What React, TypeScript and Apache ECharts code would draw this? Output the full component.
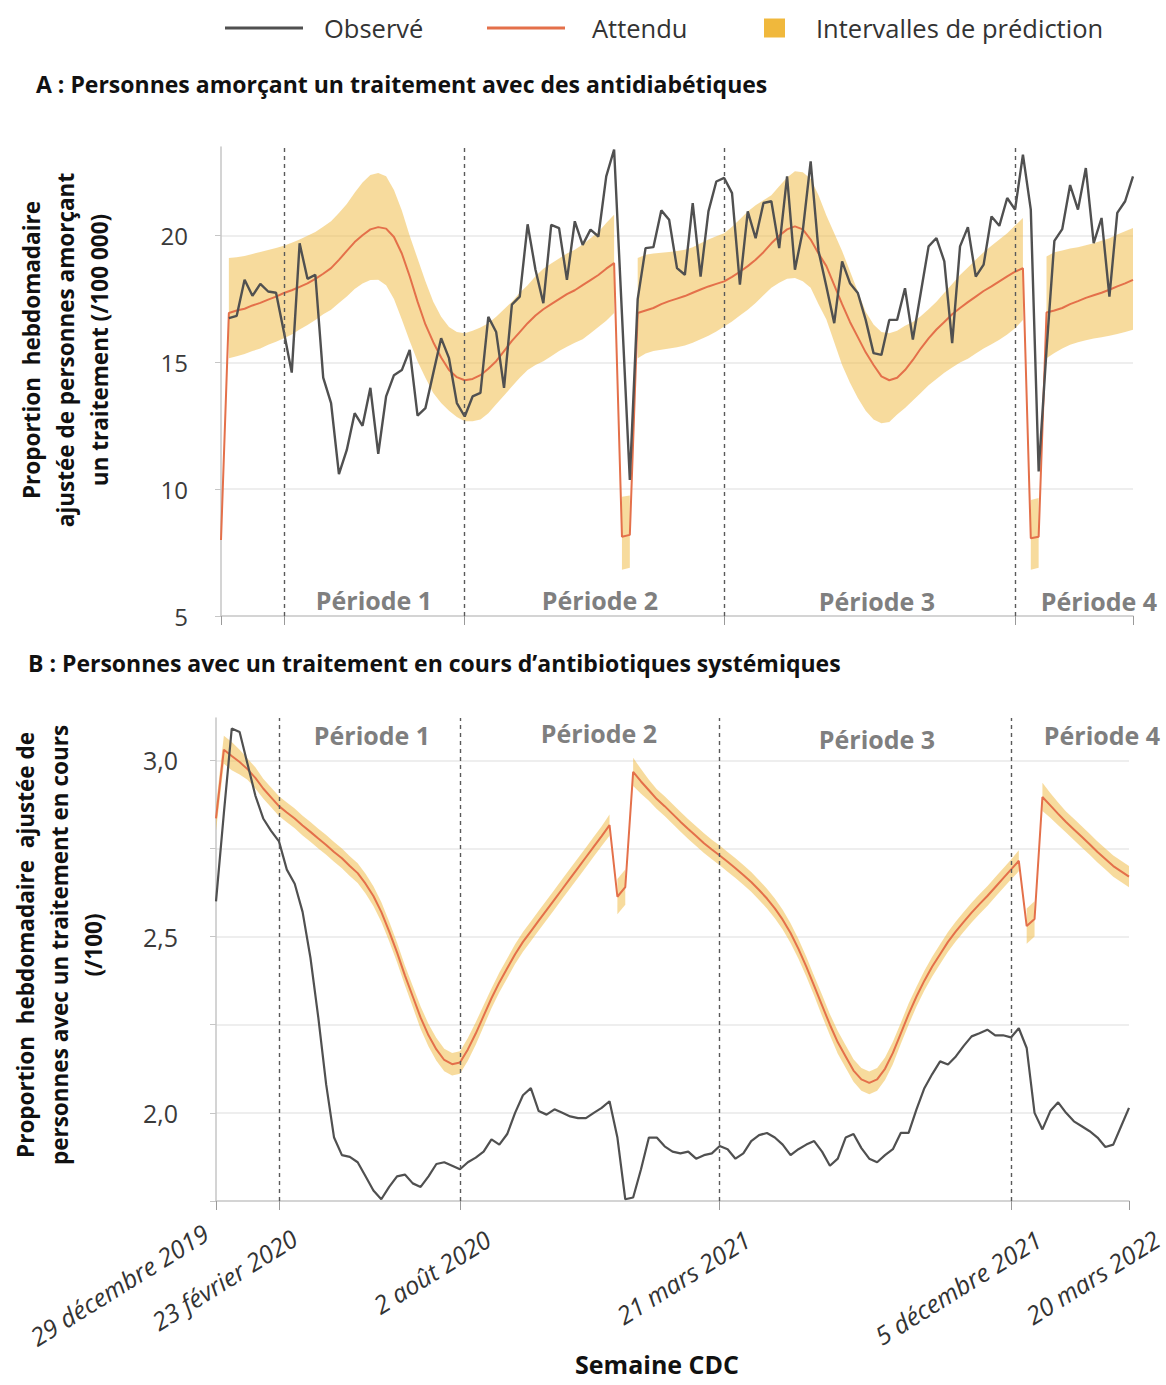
import React, { useEffect, useRef } from 'react';
import * as echarts from 'echarts';

// ---------- categories (CDC weeks, 29 Dec 2019 = week 0) ----------
const WEEKS: string[] = Array.from({ length: 117 }, (_, i) => String(i));
const TICK_WEEKS = [0, 8, 31, 64, 101, 116];
const TICK_LABELS = [
  '29 décembre 2019',
  '23 février 2020',
  '2 août 2020',
  '21 mars 2021',
  '5 décembre 2021',
  '20 mars 2022',
];
const PERIOD_BOUNDS = [8, 31, 64, 101];
const PERIOD_NAMES = ['Période 1', 'Période 2', 'Période 3', 'Période 4'];
const SEGMENTS_A = [[1, 50], [51, 52], [53, 102], [103, 104], [105, 116]];
const SEGMENTS_B = [[0, 50], [51, 52], [53, 102], [103, 104], [105, 116]];
const Y_TICKS_A = [5, 10, 15, 20];
const Y_TICKS_B = [2.0, 2.5, 3.0];

// ---------- Panel A : antidiabétiques (/100 000) ----------
const OBS_A = [
  null, 16.75, 16.84, 18.26, 17.63, 18.1, 17.8, 17.75, 16.2, 14.6,
  19.7, 18.3, 18.46, 14.4, 13.4, 10.6, 11.55, 13.0, 12.5, 14.0,
  11.4, 13.66, 14.5, 14.7, 15.5, 12.9, 13.2, 14.58, 15.96, 15.17,
  13.4, 12.87, 13.66, 13.8, 16.8, 16.2, 14.0, 17.28, 17.6, 20.45,
  18.66, 17.34, 20.43, 20.3, 18.26, 20.57, 19.64, 20.24, 19.97, 22.34,
  23.4, 16.9, 10.37, 17.5, 19.51, 19.55, 21.0, 20.63, 18.72, 18.46,
  21.29, 18.39, 20.96, 22.14, 22.28, 21.68, 18.07, 20.96, 19.9, 21.29,
  21.36, 19.51, 22.34, 18.66, 20.2, 22.93, 19.4, 18.0, 16.55, 18.99,
  18.13, 17.74, 16.68, 15.37, 15.3, 16.68, 16.68, 17.93, 15.9, 17.74,
  19.58, 19.91, 18.99, 15.76, 19.58, 20.34, 18.39, 18.86, 20.76, 20.39,
  21.49, 21.03, 23.2, 21.03, 10.7, 15.5, 19.8, 20.26, 22.0, 21.03,
  22.67, 19.71, 20.7, 17.6, 20.9, 21.36, 22.34,
];
const EXP_A = [
  8.0, 16.95, 17.05, 17.12, 17.25, 17.35, 17.48, 17.6, 17.74, 17.85,
  17.98, 18.12, 18.3, 18.5, 18.72, 19.05, 19.4, 19.75, 20.02, 20.25,
  20.34, 20.28, 19.95, 19.3, 18.4, 17.4, 16.5, 15.8, 15.2, 14.7,
  14.42, 14.3, 14.35, 14.5, 14.75, 15.05, 15.45, 15.85, 16.2, 16.55,
  16.85, 17.1, 17.3, 17.5, 17.7, 17.85, 18.05, 18.25, 18.45, 18.7,
  18.92, 8.13, 8.2, 16.95, 17.05, 17.15, 17.3, 17.42, 17.52, 17.62,
  17.75, 17.88, 18.0, 18.1, 18.2, 18.38, 18.58, 18.8, 19.05, 19.35,
  19.7, 20.0, 20.25, 20.37, 20.25, 19.85, 19.3, 18.8, 18.05, 17.3,
  16.6, 16.0, 15.4, 14.9, 14.45, 14.3, 14.4, 14.7, 15.1, 15.55,
  15.95, 16.3, 16.6, 16.9, 17.15, 17.38, 17.6, 17.82, 18.0, 18.2,
  18.4, 18.58, 18.72, 8.07, 8.13, 16.97, 17.05, 17.15, 17.3, 17.42,
  17.55, 17.65, 17.75, 17.87, 18.0, 18.12, 18.26,
];
const UP_A = [
  null, 19.12, 19.15, 19.2, 19.28, 19.36, 19.44, 19.52, 19.6, 19.72,
  19.85, 20.0, 20.15, 20.35, 20.57, 20.9, 21.25, 21.7, 22.1, 22.4,
  22.47, 22.35, 21.8, 21.0, 20.0, 19.1, 18.2, 17.4, 16.8, 16.4,
  16.2, 16.15, 16.25, 16.38, 16.55, 16.8, 17.1, 17.4, 17.75, 18.05,
  18.4, 18.7, 18.9, 19.1, 19.3, 19.45, 19.65, 19.9, 20.15, 20.5,
  20.83, 9.7, 9.75, 19.12, 19.25, 19.3, 19.33, 19.36, 19.4, 19.45,
  19.55, 19.7, 19.85, 19.98, 20.1, 20.35, 20.65, 20.96, 21.2, 21.4,
  21.6, 21.95, 22.3, 22.54, 22.5, 22.25, 21.6, 20.8, 20.1, 19.4,
  18.6, 17.8, 17.0, 16.5, 16.2, 16.15, 16.25, 16.45, 16.6, 16.82,
  17.1, 17.4, 17.75, 18.1, 18.45, 18.75, 19.05, 19.35, 19.6, 19.85,
  20.1, 20.4, 20.7, 9.58, 9.65, 19.18, 19.35, 19.42, 19.5, 19.55,
  19.62, 19.7, 19.8, 19.9, 20.05, 20.18, 20.3,
];
const LO_A = [
  null, 15.17, 15.25, 15.33, 15.45, 15.55, 15.7, 15.82, 15.96, 16.1,
  16.3, 16.48, 16.68, 16.9, 17.08, 17.35, 17.6, 17.9, 18.12, 18.25,
  18.26, 18.05, 17.5, 16.7, 15.85, 15.05, 14.4, 13.8, 13.4, 13.1,
  12.85, 12.68, 12.68, 12.75, 13.0, 13.35, 13.7, 14.05, 14.4, 14.7,
  14.9, 15.05, 15.25, 15.45, 15.62, 15.78, 15.92, 16.15, 16.4, 16.65,
  16.95, 6.82, 6.9, 15.17, 15.35, 15.45, 15.5, 15.55, 15.6, 15.67,
  15.78, 15.92, 16.05, 16.22, 16.42, 16.62, 16.85, 17.08, 17.35, 17.65,
  17.95, 18.15, 18.3, 18.33, 18.2, 17.95, 17.3, 16.7, 15.8, 14.9,
  14.2, 13.6, 13.1, 12.75, 12.6, 12.65, 12.95, 13.2, 13.5, 13.8,
  14.1, 14.35, 14.6, 14.8, 15.0, 15.15, 15.35, 15.55, 15.72, 15.9,
  16.1, 16.35, 16.68, 6.82, 6.9, 15.17, 15.37, 15.55, 15.7, 15.8,
  15.88, 15.95, 16.0, 16.05, 16.12, 16.2, 16.29,
];

// ---------- Panel B : antibiotiques systémiques (/100) ----------
const OBS_B = [
  2.6, 2.85, 3.09, 3.08, 2.99, 2.9, 2.835, 2.8, 2.77, 2.69,
  2.65, 2.57, 2.44, 2.27, 2.08, 1.93, 1.88, 1.875, 1.86, 1.82,
  1.78, 1.755, 1.79, 1.82, 1.825, 1.8, 1.79, 1.82, 1.855, 1.86,
  1.85, 1.84, 1.86, 1.873, 1.89, 1.925, 1.91, 1.94, 2.0, 2.05,
  2.07, 2.005, 1.995, 2.01, 2.0, 1.99, 1.985, 1.985, 2.0, 2.014,
  2.033, 1.93, 1.755, 1.76, 1.84, 1.93, 1.93, 1.905, 1.89, 1.885,
  1.89, 1.87, 1.88, 1.885, 1.906, 1.897, 1.87, 1.885, 1.92, 1.937,
  1.943, 1.93, 1.91, 1.88, 1.897, 1.91, 1.92, 1.89, 1.85, 1.87,
  1.93, 1.94, 1.9, 1.87, 1.86, 1.88, 1.897, 1.943, 1.943, 2.01,
  2.07, 2.11, 2.146, 2.137, 2.16, 2.19, 2.217, 2.226, 2.236, 2.22,
  2.22, 2.214, 2.24, 2.184, 2.0, 1.953, 2.005, 2.03, 2.0, 1.976,
  1.962, 1.948, 1.93, 1.903, 1.91, 1.962, 2.014,
];
const EXP_B = [
  2.835, 3.03, 3.012, 2.995, 2.975, 2.95, 2.92, 2.895, 2.87, 2.852,
  2.835, 2.815, 2.797, 2.778, 2.76, 2.74, 2.722, 2.7, 2.68, 2.65,
  2.615, 2.57, 2.515, 2.455, 2.39, 2.33, 2.27, 2.22, 2.18, 2.15,
  2.138, 2.143, 2.18, 2.225, 2.275, 2.325, 2.37, 2.41, 2.45, 2.485,
  2.515, 2.545, 2.575, 2.605, 2.635, 2.665, 2.695, 2.725, 2.755, 2.785,
  2.816, 2.613, 2.64, 2.967, 2.94, 2.915, 2.89, 2.87, 2.848, 2.826,
  2.805, 2.785, 2.765, 2.747, 2.73, 2.712, 2.694, 2.675, 2.655, 2.632,
  2.608, 2.58, 2.548, 2.51, 2.465, 2.415, 2.36, 2.305, 2.25, 2.2,
  2.16, 2.12, 2.095, 2.085, 2.095, 2.125, 2.17, 2.225, 2.28, 2.33,
  2.375, 2.415, 2.45, 2.485, 2.515, 2.542, 2.568, 2.592, 2.615, 2.64,
  2.665, 2.69, 2.715, 2.53, 2.55, 2.896, 2.872, 2.848, 2.825, 2.804,
  2.783, 2.762, 2.74, 2.72, 2.7, 2.685, 2.67,
];
const UP_B = [
  2.87, 3.07, 3.052, 3.03, 3.005, 2.98, 2.948, 2.923, 2.898, 2.88,
  2.863, 2.843, 2.825, 2.806, 2.788, 2.768, 2.75, 2.728, 2.708, 2.678,
  2.643, 2.598, 2.543, 2.483, 2.418, 2.36, 2.302, 2.252, 2.212, 2.182,
  2.17, 2.175, 2.212, 2.257, 2.305, 2.353, 2.398, 2.438, 2.478, 2.513,
  2.543, 2.573, 2.603, 2.633, 2.663, 2.693, 2.723, 2.753, 2.783, 2.813,
  2.846, 2.663, 2.69, 3.007, 2.975, 2.945, 2.918, 2.898, 2.876, 2.854,
  2.833, 2.813, 2.793, 2.775, 2.758, 2.74, 2.722, 2.703, 2.683, 2.66,
  2.636, 2.608, 2.576, 2.538, 2.493, 2.443, 2.388, 2.335, 2.28, 2.232,
  2.192, 2.152, 2.127, 2.117, 2.127, 2.157, 2.202, 2.255, 2.31, 2.358,
  2.403, 2.443, 2.478, 2.513, 2.543, 2.57, 2.596, 2.62, 2.643, 2.668,
  2.693, 2.718, 2.745, 2.58, 2.6, 2.936, 2.907, 2.88, 2.855, 2.834,
  2.813, 2.792, 2.77, 2.75, 2.73, 2.715, 2.7,
];
const LO_B = [
  2.8, 2.99, 2.972, 2.96, 2.945, 2.92, 2.892, 2.867, 2.842, 2.824,
  2.807, 2.787, 2.769, 2.75, 2.732, 2.712, 2.694, 2.672, 2.652, 2.622,
  2.587, 2.542, 2.487, 2.427, 2.362, 2.3, 2.238, 2.188, 2.148, 2.118,
  2.106, 2.111, 2.148, 2.193, 2.245, 2.297, 2.342, 2.382, 2.422, 2.457,
  2.487, 2.517, 2.547, 2.577, 2.607, 2.637, 2.667, 2.697, 2.727, 2.757,
  2.786, 2.563, 2.59, 2.927, 2.905, 2.885, 2.862, 2.842, 2.82, 2.798,
  2.777, 2.757, 2.737, 2.719, 2.702, 2.684, 2.666, 2.647, 2.627, 2.604,
  2.58, 2.552, 2.52, 2.482, 2.437, 2.387, 2.332, 2.275, 2.22, 2.168,
  2.128, 2.088, 2.063, 2.053, 2.063, 2.093, 2.138, 2.195, 2.25, 2.302,
  2.347, 2.387, 2.422, 2.457, 2.487, 2.514, 2.54, 2.564, 2.587, 2.612,
  2.637, 2.662, 2.685, 2.48, 2.5, 2.856, 2.837, 2.816, 2.795, 2.774,
  2.753, 2.732, 2.71, 2.69, 2.67, 2.655, 2.64,
];

// ---------- styles ----------
const FONT = '"Open Sans", "Noto Sans", sans-serif';
const OBS_COLOR = '#505050';
const EXP_COLOR = '#e4704a';
const BAND_COLOR = '#f0b83c';
const BAND_FILL = 'rgba(240,184,60,0.5)';
const GRID_LINE = '#e9e9e9';
const AXIS_LINE = '#c6c6c6';
const PERIOD_COLOR = '#7f7f7f';

const isTick = (index: number) => TICK_WEEKS.includes(index);
const labelOf: Record<string, string> = {};
TICK_WEEKS.forEach((w, i) => {
  labelOf[WEEKS[w]] = TICK_LABELS[i];
});

function bandSeries(idx: number, up: (number | null)[], lo: (number | null)[], segs: number[][]) {
  return {
    type: 'custom',
    name: 'Intervalles de prédiction',
    xAxisIndex: idx,
    yAxisIndex: idx,
    z: 1,
    silent: true,
    itemStyle: { color: BAND_COLOR },
    data: segs.map(([s]) => [s, up[s]]),
    renderItem: (params: any, api: any) => {
      const [s, e] = segs[params.dataIndex];
      const points: number[][] = [];
      for (let w = s; w <= e; w++) points.push(api.coord([w, up[w]]));
      for (let w = e; w >= s; w--) points.push(api.coord([w, lo[w]]));
      return {
        type: 'polygon',
        shape: { points },
        style: { fill: BAND_FILL, stroke: null },
      };
    },
  };
}

const dashLines = {
  silent: true,
  symbol: 'none',
  label: { show: false },
  lineStyle: { color: '#5a5a5a', type: [4, 4], width: 1.4 },
  data: PERIOD_BOUNDS.map((w) => ({ xAxis: WEEKS[w] })),
};

function lineSeries(name: string, idx: number, data: (number | null)[], color: string, width: number, z: number, withMarks: boolean) {
  const s: any = {
    type: 'line',
    name,
    xAxisIndex: idx,
    yAxisIndex: idx,
    data,
    z,
    symbol: 'none',
    connectNulls: false,
    lineStyle: { color, width },
    itemStyle: { color },
    emphasis: { disabled: true },
  };
  if (withMarks) s.markLine = dashLines;
  return s;
}

const periodText = (x: number, y: number, text: string) => ({
  type: 'text',
  x,
  y,
  style: {
    text,
    fill: PERIOD_COLOR,
    fontSize: 25,
    fontWeight: 'bold',
    fontFamily: FONT,
    align: 'center',
    verticalAlign: 'middle',
  },
});

const yTitle = (x: number, y: number, text: string) => ({
  type: 'text',
  x,
  y,
  rotation: Math.PI / 2,
  style: {
    text,
    fill: '#111',
    fontSize: 22.5,
    fontWeight: 'bold',
    fontFamily: FONT,
    align: 'center',
    verticalAlign: 'middle',
    lineHeight: 34,
  },
});

const legendBase = {
  top: 10,
  icon: 'rect',
  selectedMode: false,
  textStyle: { fontSize: 25.5, color: '#333', fontFamily: FONT },
};

function buildOption(): any {
  const xCatB = WEEKS.map((w, i) => {
    if (i === 0) return { value: w, textStyle: { padding: [0, -4, 13, 0], verticalAlign: 'bottom' } };
    if (i === 8) return { value: w, textStyle: { padding: [0, -23, -5, 0], verticalAlign: 'bottom' } };
    return w;
  });
  return {
    animation: false,
    backgroundColor: '#ffffff',
    textStyle: { fontFamily: FONT },
    title: [
      {
        text: 'A : Personnes amorçant un traitement avec des antidiabétiques',
        left: 31,
        top: 67,
        textStyle: { fontSize: 23, fontWeight: 'bold', color: '#111', fontFamily: FONT },
      },
      {
        text: 'B : Personnes avec un traitement en cours d’antibiotiques systémiques',
        left: 23,
        top: 646,
        textStyle: { fontSize: 23, fontWeight: 'bold', color: '#111', fontFamily: FONT },
      },
    ],
    legend: [
      {
        ...legendBase,
        data: ['Observé'],
        left: 220,
        itemWidth: 78,
        itemHeight: 3,
        textStyle: { ...legendBase.textStyle, padding: [0, 0, 0, 16] },
      },
      {
        ...legendBase,
        data: ['Attendu'],
        left: 482,
        itemWidth: 78,
        itemHeight: 3,
        textStyle: { ...legendBase.textStyle, padding: [0, 0, 0, 22] },
      },
      {
        ...legendBase,
        data: ['Intervalles de prédiction'],
        left: 759,
        itemWidth: 21,
        itemHeight: 19,
        textStyle: { ...legendBase.textStyle, padding: [0, 0, 0, 26] },
      },
    ],
    grid: [
      { left: 221, top: 147, width: 912, height: 469, outerBoundsMode: 'none' },
      { left: 216, top: 718, width: 913, height: 483, outerBoundsMode: 'none' },
    ],
    xAxis: [
      {
        gridIndex: 0,
        type: 'category',
        data: WEEKS,
        boundaryGap: false,
        axisLine: { show: true, lineStyle: { color: AXIS_LINE, width: 1.5 } },
        axisTick: { show: true, interval: isTick, length: 9, lineStyle: { color: '#9a9a9a' } },
        axisLabel: { show: false },
        splitLine: { show: false },
      },
      {
        gridIndex: 1,
        type: 'category',
        data: xCatB,
        boundaryGap: false,
        axisLine: { show: true, lineStyle: { color: AXIS_LINE, width: 1.5 } },
        axisTick: { show: true, interval: isTick, length: 9, lineStyle: { color: '#9a9a9a' } },
        axisLabel: {
          show: true,
          interval: isTick,
          rotate: 32,
          margin: 53,
          padding: [0, -33, 0, 0],
          hideOverlap: false,
          fontSize: 25,
          fontStyle: 'italic',
          color: '#333',
          fontFamily: FONT,
          formatter: (v: string) => labelOf[v] || '',
        },
        splitLine: { show: false },
      },
    ],
    yAxis: [
      {
        gridIndex: 0,
        type: 'value',
        min: 5,
        max: 23.5,
        interval: 5,
        axisLine: { show: true, lineStyle: { color: AXIS_LINE, width: 1.5 } },
        axisTick: { show: true, length: 6, lineStyle: { color: AXIS_LINE } },
        axisLabel: {
          fontSize: 24,
          color: '#3a3a3a',
          margin: 33,
          fontFamily: FONT,
          showMaxLabel: false,
          formatter: (v: number) => (Y_TICKS_A.includes(v) ? String(v) : ''),
        },
        splitLine: { show: true, showMaxLine: false, showMinLine: false, lineStyle: { color: GRID_LINE, width: 1.5 } },
      },
      {
        gridIndex: 1,
        type: 'value',
        min: 1.75,
        max: 3.12,
        interval: 0.25,
        axisLine: { show: true, lineStyle: { color: AXIS_LINE, width: 1.5 } },
        axisTick: { show: true, length: 6, lineStyle: { color: AXIS_LINE } },
        axisLabel: {
          fontSize: 25,
          color: '#3a3a3a',
          margin: 38,
          fontFamily: FONT,
          showMaxLabel: false,
          formatter: (v: number) => {
            const r = Math.round(v * 1000) / 1000;
            return Y_TICKS_B.some((t) => Math.abs(t - r) < 1e-6) ? r.toFixed(1).replace('.', ',') : '';
          },
        },
        splitLine: { show: true, showMaxLine: false, showMinLine: false, lineStyle: { color: GRID_LINE, width: 1.5 } },
      },
    ],
    series: [
      bandSeries(0, UP_A, LO_A, SEGMENTS_A),
      lineSeries('Attendu', 0, EXP_A, EXP_COLOR, 2, 2, true),
      lineSeries('Observé', 0, OBS_A, OBS_COLOR, 2.4, 3, false),
      bandSeries(1, UP_B, LO_B, SEGMENTS_B),
      lineSeries('Attendu', 1, EXP_B, EXP_COLOR, 2, 2, true),
      lineSeries('Observé', 1, OBS_B, OBS_COLOR, 2.2, 3, false),
    ],
    graphic: [
      yTitle(65, 350, 'Proportion  hebdomadaire\najustée de personnes amorçant\nun traitement (/100 000)'),
      yTitle(59, 945, 'Proportion  hebdomadaire  ajustée de\npersonnes avec un traitement en cours\n(/100)'),
      periodText(374, 600, PERIOD_NAMES[0]),
      periodText(600, 600, PERIOD_NAMES[1]),
      periodText(877, 601, PERIOD_NAMES[2]),
      periodText(1099, 601, PERIOD_NAMES[3]),
      periodText(372, 735, PERIOD_NAMES[0]),
      periodText(599, 733, PERIOD_NAMES[1]),
      periodText(877, 739, PERIOD_NAMES[2]),
      periodText(1102, 735, PERIOD_NAMES[3]),
      {
        type: 'text',
        x: 657,
        y: 1364,
        style: {
          text: 'Semaine CDC',
          fill: '#111',
          fontSize: 25,
          fontWeight: 'bold',
          fontFamily: FONT,
          align: 'center',
          verticalAlign: 'middle',
        },
      },
    ],
  };
}

export default function App() {
  const ref = useRef<HTMLDivElement>(null);
  useEffect(() => {
    if (!ref.current) return;
    const chart = echarts.init(ref.current, undefined, { renderer: 'svg' });
    chart.setOption(buildOption());
    return () => {
      chart.dispose();
    };
  }, []);
  return (
    <div
      ref={ref}
      style={{ position: 'absolute', left: 0, top: 0, width: 1166, height: 1385, background: '#fff' }}
    />
  );
}
